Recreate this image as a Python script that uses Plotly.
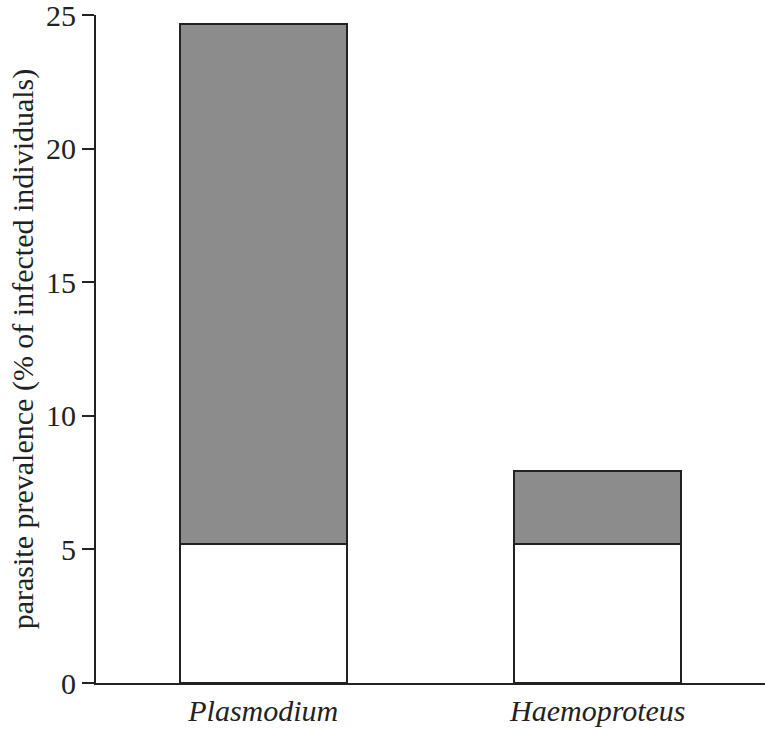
import plotly.graph_objects as go

categories = ["Plasmodium", "Haemoproteus"]
lower_values = [5.2, 5.2]
upper_values = [19.45, 2.75]
tick_values = [0, 5, 10, 15, 20, 25]

fig = go.Figure()
fig.add_trace(go.Bar(
    x=categories, y=lower_values, width=0.5,
    marker=dict(color="white", line=dict(color="#222222", width=2)),
    showlegend=False,
))
fig.add_trace(go.Bar(
    x=categories, y=upper_values, width=0.5,
    marker=dict(color="#8c8c8c", line=dict(color="#222222", width=2)),
    showlegend=False,
))

serif = "Liberation Serif, Times New Roman, serif"
fig.update_layout(
    barmode="stack",
    width=765, height=729,
    margin=dict(l=96, r=0, t=15, b=46),
    plot_bgcolor="white", paper_bgcolor="white",
    font=dict(family=serif, color="#222222", size=30),
    xaxis=dict(
        range=[-0.5, 1.5], showline=True, linecolor="#222222", linewidth=2,
        ticks="", showgrid=False, zeroline=False, automargin=False,
        tickfont=dict(family=serif, size=30),
        tickvals=categories, ticktext=["<i>%s</i>" % c for c in categories],
    ),
    yaxis=dict(
        range=[0, 25], showline=True, linecolor="#222222", linewidth=2,
        ticks="outside", ticklen=12, tickwidth=2, tickcolor="#222222",
        tickvals=tick_values, showgrid=False, zeroline=False, automargin=False,
        ticklabeloverflow="allow",
        tickfont=dict(family=serif, size=30),
        title=dict(text="parasite prevalence (% of infected individuals)",
                   font=dict(family=serif, size=30), standoff=4),
    ),
)

fig.write_html("out.html", config={"displayModeBar": False},
               post_script="document.body.style.margin='0';")
